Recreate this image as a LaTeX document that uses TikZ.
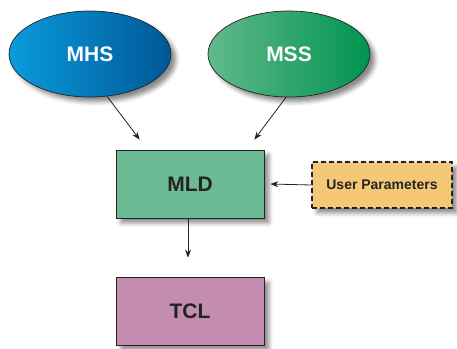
\documentclass[tikz,border=0pt]{standalone}
\usepackage{fontspec}
\setmainfont{Liberation Sans}
\usetikzlibrary{shapes.geometric,shadows.blur,arrows.meta,calc}
\definecolor{mhsL}{RGB}{10,155,220}
\definecolor{mhsR}{RGB}{0,88,152}
\definecolor{mssL}{RGB}{98,184,140}
\definecolor{mssR}{RGB}{0,148,80}
\definecolor{mldfill}{RGB}{108,187,148}
\definecolor{upfill}{RGB}{245,200,120}
\definecolor{tclfill}{RGB}{196,140,176}
\definecolor{ink}{RGB}{35,35,35}
\tikzset{
  softshadow/.style={blur shadow={shadow xshift=5pt,shadow yshift=-5pt,shadow blur radius=4pt,shadow opacity=45}},
  blob/.style={ellipse,draw=ink,line width=0.7pt,minimum width=162pt,minimum height=86pt,
    inner sep=0pt,text=white,font=\bfseries\fontsize{21}{24}\selectfont,softshadow},
  stagebox/.style={rectangle,draw=ink,line width=0.7pt,minimum width=148pt,minimum height=68pt,
    inner sep=0pt,text=ink,font=\bfseries\fontsize{21}{24}\selectfont,softshadow},
  parambox/.style={rectangle,draw=ink,line width=1.6pt,dash pattern=on 5pt off 3pt,fill=upfill,
    minimum width=140pt,minimum height=46pt,inner sep=0pt,text=ink,
    font=\bfseries\fontsize{14}{16}\selectfont,softshadow},
  arr/.style={draw=ink,line width=0.8pt,-{Stealth[length=8pt,width=6pt]}}
}
\begin{document}
\begin{tikzpicture}[x=1pt,y=1pt]
\useasboundingbox (0,0) rectangle (457,348);
% source ellipses
\node[blob,left color=mhsL,right color=mhsR] (mhs) at (90,294) {MHS};
\node[blob,left color=mssL,right color=mssR] (mss) at (289,294) {MSS};
% processing stages
\node[stagebox,fill=mldfill] (mld) at (190,164) {MLD};
\node[parambox] (up) at (382,163) {User Parameters};
\node[stagebox,fill=tclfill] (tcl) at (190,37) {TCL};
% connectors
\coordinate (mhsend) at ($(mld.north west)+(24,10)$);
\coordinate (mssend) at ($(mld.north east)+(-10,10)$);
\coordinate (upend) at ($(mld.east)+(6,0)$);
\coordinate (mldout) at ($(mld.south)+(-2,0)$);
\coordinate (tclend) at ($(tcl.north)+(-2,19)$);
\draw[arr] (mhs.-68) -- (mhsend);
\draw[arr] (mss.-94) -- (mssend);
\draw[arr] (up.west) -- (upend);
\draw[arr] (mldout) -- (tclend);
\end{tikzpicture}
\end{document}
